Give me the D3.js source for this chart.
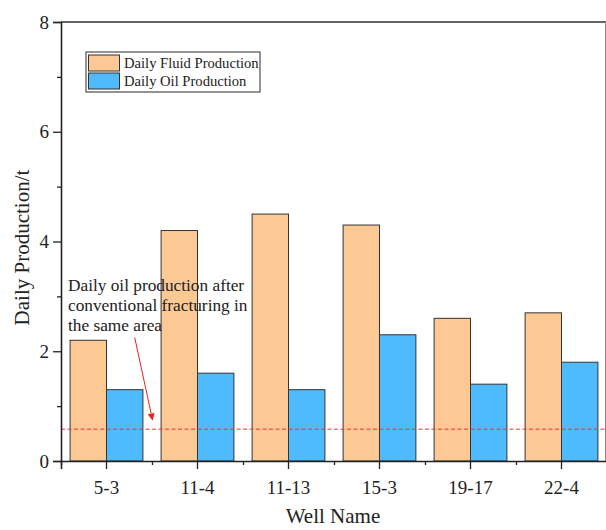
<!DOCTYPE html>
<meta charset="utf-8">
<title>Daily Production by Well</title>
<style>
  body { margin: 0; background: white; }
  text { font-family: "Liberation Serif", "Times New Roman", serif; fill: #222; }
  .bar { stroke: #333; stroke-width: 1px; }
</style>
<svg width="606" height="530"></svg>
<script src="https://d3js.org/d3.v7.min.js"></script>
<script>
  // data
  var wells = ["5-3", "11-4", "11-13", "15-3", "19-17", "22-4"];
  var fluid = [2.2, 4.2, 4.5, 4.3, 2.6, 2.7];
  var oil = [1.3, 1.6, 1.3, 2.3, 1.4, 1.8];
  var seriesNames = ["Daily Fluid Production", "Daily Oil Production"];
  var seriesColors = ["#fcc995", "#4dbbfd"];
  var conventionalOil = 0.58;
  var yTicks = [0, 2, 4, 6, 8];
  var yMinor = [1, 3, 5, 7];

  var svg = d3.select("svg"),
      plotLeft = 61, plotRight = 607, plotTop = 22, plotBottom = 461;

  var x = d3.scaleBand().domain(wells).range([plotLeft, plotRight]).paddingInner(0.2).paddingOuter(0.1);
  var xBand = d3.scaleBand().domain(wells).range([plotLeft, plotRight]);
  var inner = d3.scaleBand().domain([0, 1]).range([0, x.bandwidth()]);
  var y = d3.scaleLinear().domain([0, 8]).range([plotBottom, plotTop]);

  var rows = wells.map(function(w, i) { return { well: w, vals: [fluid[i], oil[i]] }; });

  // bars
  var groups = svg.append("g").selectAll("g")
      .data(rows)
      .enter().append("g")
      .attr("transform", function(d) { return "translate(" + x(d.well) + ",0)"; });

  groups.selectAll("rect")
      .data(function(d) { return d.vals; })
      .enter().append("rect")
      .attr("class", "bar")
      .attr("x", function(d, i) { return inner(i); })
      .attr("width", inner.bandwidth())
      .attr("y", function(d) { return y(d); })
      .attr("height", function(d) { return y(0) - y(d); })
      .attr("fill", function(d, i) { return seriesColors[i]; });

  // reference line
  svg.append("line")
      .attr("x1", plotLeft).attr("x2", plotRight)
      .attr("y1", y(conventionalOil)).attr("y2", y(conventionalOil))
      .attr("stroke", "#f03030")
      .attr("stroke-width", 1)
      .attr("stroke-dasharray", "4,2.5");

  // frame top / right
  svg.append("line").attr("x1", plotLeft).attr("x2", plotRight).attr("y1", plotTop).attr("y2", plotTop)
      .attr("stroke", "#333").attr("stroke-width", 1.6);
  svg.append("line").attr("x1", plotRight - 1.5).attr("x2", plotRight - 1.5).attr("y1", plotTop).attr("y2", plotBottom)
      .attr("stroke", "#888").attr("stroke-width", 1);

  // y axis
  var yAxis = svg.append("g")
      .attr("transform", "translate(" + plotLeft + ",0)")
      .call(d3.axisLeft(y).tickValues(yTicks).tickSize(8).tickPadding(4).tickFormat(d3.format("d")));
  yAxis.selectAll("text").style("font-size", "19px");
  svg.append("g")
      .attr("transform", "translate(" + plotLeft + ",0)")
      .call(d3.axisLeft(y).tickValues(yMinor).tickSize(4).tickFormat(""))
      .select(".domain").remove();

  // x axis
  var xAxis = svg.append("g")
      .attr("transform", "translate(0," + plotBottom + ")")
      .call(d3.axisBottom(xBand).tickSize(8).tickPadding(12));
  xAxis.selectAll("text").style("font-size", "19px");
  svg.append("g")
      .attr("transform", "translate(0," + plotBottom + ")")
      .call(d3.axisBottom(d3.scaleLinear().domain([0, wells.length]).range([plotLeft, plotRight]))
            .tickValues(d3.range(0, wells.length)).tickSize(4).tickFormat(""))
      .select(".domain").remove();

  svg.selectAll(".domain").attr("stroke", "#222").attr("stroke-width", 1.6);
  svg.selectAll(".tick line").attr("stroke", "#222").attr("stroke-width", 1.3);

  // axis titles
  svg.append("text")
      .attr("transform", "translate(29," + ((plotTop + plotBottom) / 2 + 6) + ") rotate(-90)")
      .attr("text-anchor", "middle")
      .style("font-size", "21px")
      .text("Daily Production/t");
  svg.append("text")
      .attr("x", (plotLeft + plotRight) / 2 - 1).attr("y", 523)
      .attr("text-anchor", "middle")
      .style("font-size", "21px")
      .text("Well Name");

  // legend
  var legend = svg.append("g").attr("transform", "translate(86,52)");
  legend.append("rect").attr("width", 174).attr("height", 40)
      .attr("fill", "white").attr("stroke", "#666").attr("stroke-width", 1.4);
  seriesNames.forEach(function(name, i) {
    legend.append("rect").attr("x", 2.5).attr("y", 3 + i * 18).attr("width", 31).attr("height", 16)
        .attr("fill", seriesColors[i]).attr("stroke", "#333").attr("stroke-width", 1);
    legend.append("text").attr("x", 38).attr("y", 16 + i * 18)
        .style("font-size", "14.6px").text(name);
  });

  // annotation
  var note = ["Daily oil production after", "conventional fracturing in", "the same area"];
  svg.append("text")
      .attr("x", 68).attr("y", 291)
      .style("font-size", "17.3px")
      .selectAll("tspan").data(note)
      .enter().append("tspan")
      .attr("x", 68).attr("dy", function(d, i) { return i ? 20 : 0; })
      .text(function(d) { return d; });

  svg.append("defs").append("marker")
      .attr("id", "arrow").attr("viewBox", "0 0 10 10")
      .attr("refX", 9).attr("refY", 5)
      .attr("markerWidth", 7).attr("markerHeight", 7)
      .attr("orient", "auto")
      .append("path").attr("d", "M0,0 L10,5 L0,10 z").attr("fill", "#f02020");

  var arrowFrom = [xBand("5-3") + xBand.bandwidth() * 0.81, 2.25],
      arrowTo = [xBand("11-4") + 0.5, 0.75];
  svg.append("line")
      .attr("x1", arrowFrom[0]).attr("y1", y(arrowFrom[1]))
      .attr("x2", arrowTo[0]).attr("y2", y(arrowTo[1]))
      .attr("stroke", "#f02020").attr("stroke-width", 1)
      .attr("marker-end", "url(#arrow)");
</script>
